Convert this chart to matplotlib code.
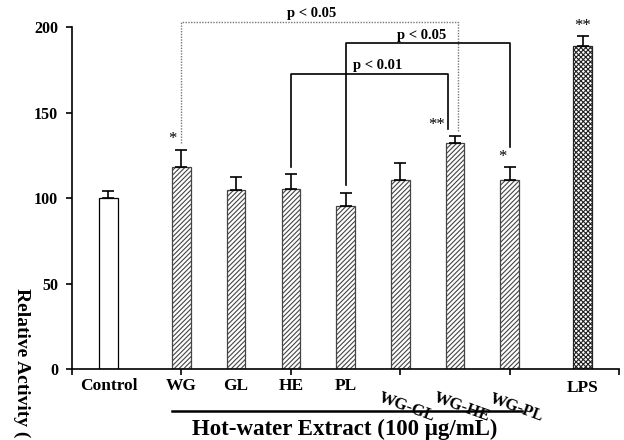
import numpy as np
import matplotlib
matplotlib.use("Agg")
import matplotlib.pyplot as plt
from matplotlib.lines import Line2D

# bar data (relative activity, %)
labels = ["Control", "WG", "GL", "HE", "PL", "WG-GL", "WG-HE", "WG-PL", "LPS"]
values = [100.0, 118.1, 105.0, 105.3, 95.5, 110.5, 132.2, 110.5, 189.1]
errors = [4.4, 10.3, 7.3, 8.7, 7.8, 10.0, 4.4, 7.6, 5.9]
xpos = [0, 1.333, 2.333, 3.333, 4.333, 5.333, 6.333, 7.333, 8.667]

# significance marks above bars: (bar index, text, x shift)
stars = [(1, "*", -0.17), (6, "**", -0.33), (7, "*", -0.14), (8, "**", 0.0)]

# comparison brackets:
# (left bar, right bar, right shift, left foot, right foot, top, label, label shift, dotted)
brackets = [
    (1, 6, 0.05, 132.2, 139.5, 203.1, "p < 0.05", -0.15, True),
    (3, 6, -0.12, 118.5, 140.4, 172.7, "p < 0.01", 0.15, False),
    (4, 7, 0.0, 107.8, 130.2, 190.6, "p < 0.05", -0.11, False),
]

plt.rcParams["font.family"] = ["Liberation Serif", "DejaVu Serif"]
plt.rcParams["font.weight"] = "bold"
plt.rcParams["hatch.linewidth"] = 0.8

fig = plt.figure(figsize=(6.24, 4.4), dpi=100)
ax = fig.add_axes([0.1154, 0.1607, 0.8766, 0.7773])

hatches = [""] + ["///////"] * 7 + ["xxxxxxx"]
edges = ["black"] + ["#444444"] * 7 + ["#222222"]
for x, v, h, ec in zip(xpos, values, hatches, edges):
    ax.bar(x, v, width=0.34, color="white", edgecolor=ec,
           linewidth=0.9, hatch=h, zorder=2)

ax.errorbar(xpos, values, yerr=[np.zeros(len(errors)), errors], fmt="none",
            ecolor="black", elinewidth=1.2, capsize=4.5, capthick=1.2, zorder=3)

for i, s, dx in stars:
    ax.text(xpos[i] + dx, values[i] + errors[i] + 6, s, ha="center", va="center",
            fontsize=12, fontweight="normal", clip_on=False)

for l, r, rshift, yl, yr, top, txt, tshift, dotted in brackets:
    xl = xpos[l]
    xr = xpos[r] + rshift
    ax.plot([xl, xl, xr, xr], [yl, top, top, yr],
            color="#777777" if dotted else "black",
            linestyle=(0, (1, 1)) if dotted else "-",
            lw=1.0 if dotted else 1.2, clip_on=False, zorder=1)
    ax.text((xl + xr) / 2 + tshift, top + 4.8, txt,
            ha="center", va="center", fontsize=10.5, clip_on=False)

ax.set_xlim(-0.667, 9.333)
ax.set_ylim(0, 200)
ax.set_xticks(np.arange(-0.667, 9.4, 2))
ax.set_xticklabels([])
ax.set_yticks([0, 50, 100, 150, 200])
ax.tick_params(axis="both", direction="out", length=4, width=1.2)
ax.tick_params(axis="y", labelsize=11.5, pad=6)
for sp in ["top", "right"]:
    ax.spines[sp].set_visible(False)
for sp in ["left", "bottom"]:
    ax.spines[sp].set_linewidth(1.2)

# category labels under the axis
for i, lab in enumerate(labels):
    if lab.startswith("WG-"):
        ax.text(xpos[i] + 0.13, -0.112, lab, transform=ax.get_xaxis_transform(),
                ha="center", va="center", rotation=-20, rotation_mode="anchor",
                fontsize=12)
    else:
        yy = -0.055 if lab == "LPS" else -0.049
        ax.text(xpos[i], yy, lab, transform=ax.get_xaxis_transform(),
                ha="center", va="center", fontsize=12.5)

fig.add_artist(Line2D([172 / 624, 522 / 624], [29 / 440, 29 / 440],
                      color="black", lw=1.8))
fig.text(0.553, 0.012, "Hot-water Extract (100 \u03bcg/mL)", ha="center",
         va="baseline", fontsize=16.5)
fig.text(21.5 / 624, 152 / 440, "Relative Activity (%)", rotation=-90,
         ha="center", va="top", fontsize=14)

fig.savefig("out.png", dpi=100)
